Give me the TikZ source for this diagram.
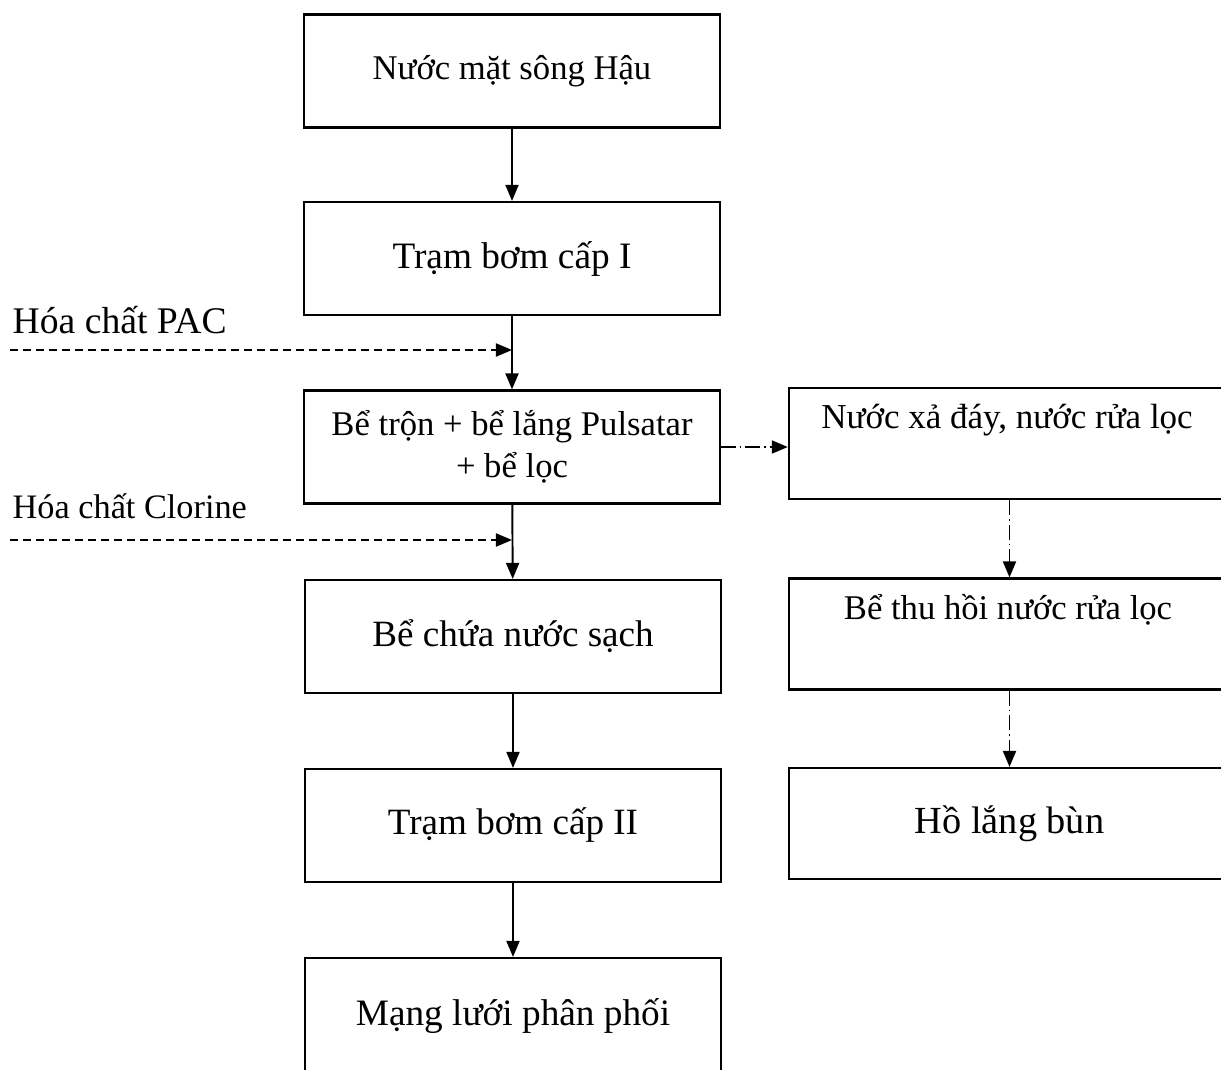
\documentclass[tikz,border=0pt]{standalone}
\usepackage{fontspec}
\setmainfont{Liberation Serif}
\usetikzlibrary{arrows.meta}

\newcommand{\fs}[1]{\fontsize{#1}{12}\selectfont}

\begin{document}
\begin{tikzpicture}[x=0.01cm,y=-0.01cm,
  box/.style={draw,line width=0.6pt,minimum width=4.15cm,minimum height=1.13cm,
    inner sep=0pt,align=center},
  sidebox/.style={draw,line width=0.6pt,minimum width=4.41cm,minimum height=1.11cm,inner sep=0pt},
  lbl/.style={inner sep=0pt},
  flow/.style={line width=0.55pt,-{Triangle[length=0.16cm,width=0.13cm]}},
  feed/.style={flow,dash pattern=on 0.08cm off 0.05cm},
  waste/.style={flow,dash pattern=on 0.15cm off 0.04cm on 0.015cm off 0.04cm}]

\path[use as bounding box] (0,0) rectangle (1221,1070);
\clip (0,0) rectangle (1221,1070);

% main line
\node[box,font=\fs{9.85}] (song)  at (512,71) {Nước mặt sông Hậu};
\node[box,font=\fs{10.6}] (bom1)  at (512,258.5) {Trạm bơm cấp I};
\node[box,font=\fs{9.85}] (loc)   at (512,447) {Bể trộn + bể lắng Pulsatar\\+ bể lọc};
\node[box,font=\fs{10.55}] (chua) at (513,636.5) {Bể chứa nước sạch};
\node[box,font=\fs{10.55}] (bom2) at (513,825.5) {Trạm bơm cấp II};
\node[box,font=\fs{10.6},minimum height=1.17cm] (mang) at (513,1016.5) {Mạng lưới phân phối};

% side line
\node[sidebox] (xa)   at (1009.5,443.5) {};
\node[lbl,font=\fs{9.95}] (xatext)  at (1007,420) {Nước xả đáy, nước rửa lọc};
\node[sidebox] (thu)  at (1009.5,634) {};
\node[lbl,font=\fs{9.85}] (thutext) at (1008,610) {Bể thu hồi nước rửa lọc};
\node[sidebox,font=\fs{10.9}] (ho)  at (1009.5,823.5) {Hồ lắng bùn};

% chemicals
\node[lbl,anchor=west,font=\fs{10.7}] (pac) at (12,320) {Hóa chất PAC};
\node[lbl,anchor=west,font=\fs{9.75}] (clo) at (12,506) {Hóa chất Clorine};
\coordinate (pacin) at (10,350);
\coordinate (cloin) at (10,540);

\draw[flow] (song) -- (bom1);
\draw[flow] (bom1) -- (loc);
\draw[flow] (loc) -- (chua);
\draw[flow] (chua) -- (bom2);
\draw[flow] (bom2) -- (mang);

\draw[feed] (pacin) -- (pacin -| bom1);
\draw[feed] (cloin) -- (cloin -| loc);

\draw[waste] (loc.east) -- (loc.east -| xa.west);
\draw[waste] (xa) -- (thu);
\draw[waste] (thu) -- (ho);
\end{tikzpicture}
\end{document}
